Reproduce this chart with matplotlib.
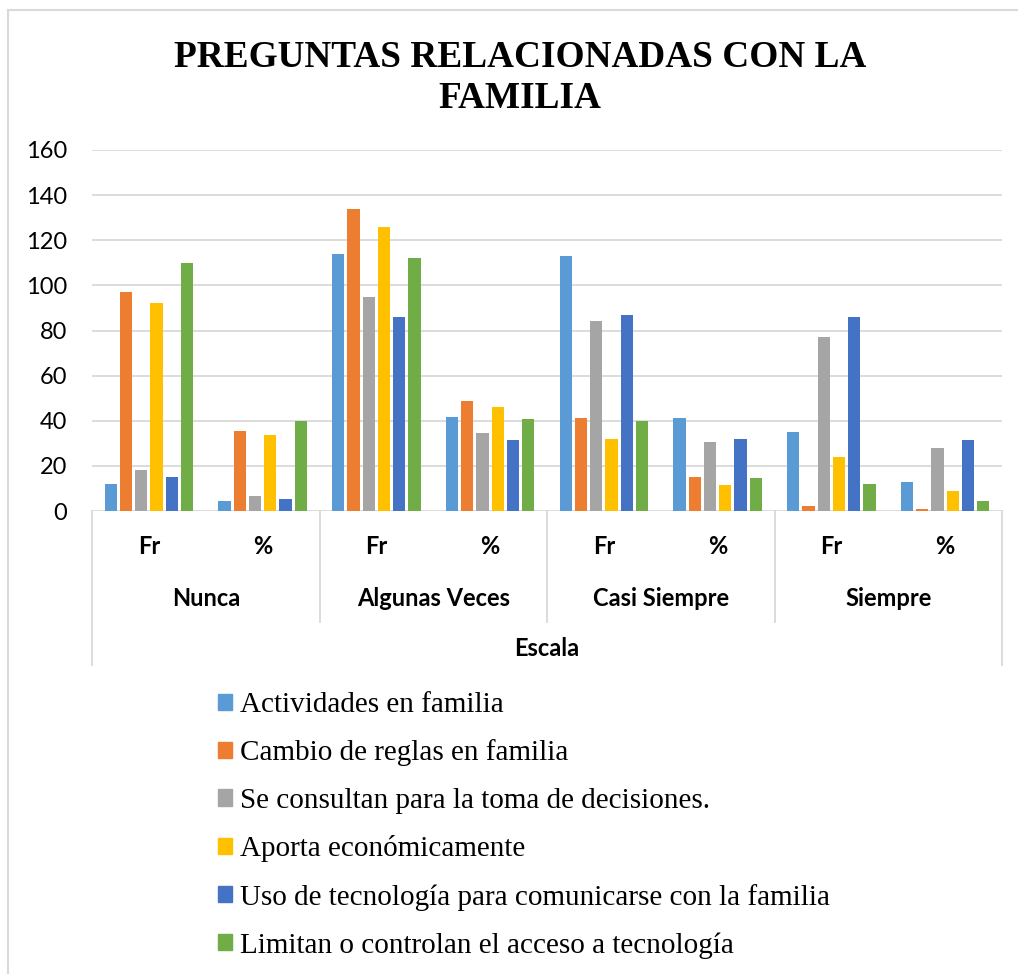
import matplotlib

matplotlib.use("Agg")
import matplotlib.pyplot as plt
from matplotlib.patches import Patch, Rectangle
from matplotlib.transforms import blended_transform_factory

W, H = 1018, 974

grupos = ["Nunca", "Algunas Veces", "Casi Siempre", "Siempre"]
medidas = ["Fr", "%"]
eje_titulo = "Escala"
titulo = "PREGUNTAS RELACIONADAS CON LA\nFAMILIA"

series = [
    "Actividades en familia",
    "Cambio de reglas en familia",
    "Se consultan para la toma de decisiones.",
    "Aporta económicamente",
    "Uso de tecnología para comunicarse con la familia",
    "Limitan o controlan el acceso a tecnología",
]
colores = ["#5B9BD5", "#ED7D31", "#A5A5A5", "#FFC000", "#4472C4", "#70AD47"]

# orden: Nunca Fr, Nunca %, Algunas Fr, Algunas %, Casi Fr, Casi %, Siempre Fr, Siempre %
actividades = [12, 4.4, 114, 41.6, 113, 41.2, 35, 12.8]
cambio_reglas = [97, 35.4, 134, 48.9, 41, 15.0, 2, 0.7]
consultan = [18, 6.6, 95, 34.7, 84, 30.7, 77, 28.1]
aporta = [92, 33.6, 126, 46.0, 32, 11.7, 24, 8.8]
uso_tecnologia = [15, 5.5, 86, 31.4, 87, 31.8, 86, 31.4]
limitan = [110, 40.1, 112, 40.9, 40, 14.6, 12, 4.4]
valores = [actividades, cambio_reglas, consultan, aporta, uso_tecnologia, limitan]

y_ticks = list(range(0, 161, 20))

SANS = ["Lato", "DejaVu Sans"]
SERIF = ["Liberation Serif", "DejaVu Serif"]
LINEA = "#d9d9d9"


def fx(px):
    return px / W


def fy(py):
    return 1 - py / H


fig = plt.figure(figsize=(W / 100, H / 100), dpi=100)
ax = fig.add_axes([fx(92), fy(511), fx(1002) - fx(92), fy(150) - fy(511)])

n_cat = len(grupos) * len(medidas)
paso, ancho = 0.134, 0.106
for i, (vals, color) in enumerate(zip(valores, colores)):
    xs = [c + 0.5 + (i - 2.5) * paso for c in range(n_cat)]
    ax.bar(xs, vals, width=ancho, color=color, zorder=3)

ax.set_xlim(0, n_cat)
ax.set_ylim(0, 160)
ax.set_yticks(y_ticks)
ax.set_xticks([])
ax.tick_params(axis="y", length=0, pad=18, labelsize=17)
for lab in ax.get_yticklabels():
    lab.set_family(SANS)
ax.yaxis.grid(True, color=LINEA, lw=1.3)
ax.set_axisbelow(True)
for s in ax.spines.values():
    s.set_visible(False)

# eje de categorías en varios niveles
blend = blended_transform_factory(ax.transData, fig.transFigure)
for c in range(n_cat):
    ax.text(c + 0.5, fy(547), medidas[c % 2], transform=blend, ha="center",
            va="center", fontsize=17, fontweight="bold", family=SANS)
for g, nombre in enumerate(grupos):
    ax.text(2 * g + 1, fy(598), nombre, transform=blend, ha="center",
            va="center", fontsize=17, fontweight="bold", family=SANS)
ax.text(n_cat / 2, fy(648), eje_titulo, transform=blend, ha="center",
        va="center", fontsize=17, fontweight="bold", family=SANS)
for xb in range(0, n_cat + 1, 2):
    fondo = 665 if xb in (0, n_cat) else 622
    ax.plot([xb, xb], [fy(511), fy(fondo)], transform=blend, color=LINEA,
            lw=1.3, clip_on=False)

fig.text(fx(520), fy(78), titulo, ha="center", va="center", fontsize=26.8,
         fontweight="bold", family=SERIF, linespacing=1.25)

handles = [Patch(color=c, label=s) for s, c in zip(series, colores)]
fig.legend(handles=handles, loc="upper left", bbox_to_anchor=(fx(218), fy(692)),
           frameon=False, prop={"family": SERIF, "size": 21}, handlelength=0.48,
           handleheight=0.48, handletextpad=0.27, labelspacing=0.735,
           borderaxespad=0, borderpad=0)

fig.add_artist(Rectangle((fx(8), fy(1000)), fx(1040) - fx(8), fy(10) - fy(1000),
                         transform=fig.transFigure, fill=False, ec=LINEA, lw=1.5))

fig.savefig("out.png", dpi=100)
